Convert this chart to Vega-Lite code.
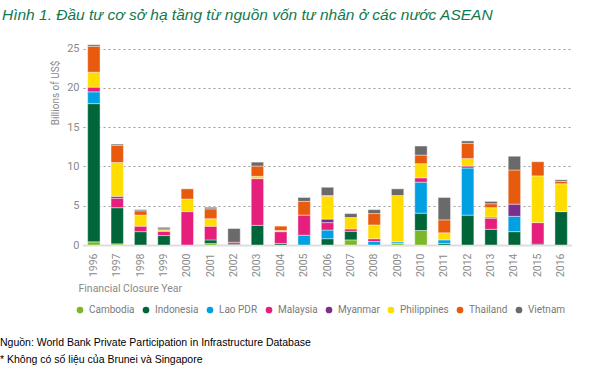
{
  "$schema": "https://vega.github.io/schema/vega-lite/v6.json",
  "padding": {"top": 8, "left": 0, "right": 0, "bottom": 0},
  "background": "white",
  "title": {
    "text": "Hình 1. Đầu tư cơ sở hạ tầng từ nguồn vốn tư nhân ở các nước ASEAN",
    "anchor": "start",
    "frame": "bounds",
    "dx": 2,
    "offset": 19,
    "font": "Liberation Sans, Arial, sans-serif",
    "fontSize": 15.5,
    "fontStyle": "italic",
    "fontWeight": "normal",
    "color": "#0f7a50"
  },
  "vconcat": [
    {
      "width": 489,
      "height": 201,
      "title": {
        "text": ["Nguồn: World Bank Private Participation in Infrastructure Database", "* Không có số liệu của Brunei và Singapore"],
        "orient": "bottom",
        "anchor": "start",
        "frame": "group",
        "dx": -83,
        "offset": 44,
        "font": "Liberation Sans, Arial, sans-serif",
        "fontSize": 10.5,
        "fontWeight": "normal",
        "color": "#000000",
        "lineHeight": 17
      },
      "data": {
        "values": [
          {"year": "1996", "country": "Cambodia", "value": 0.4},
          {"year": "1996", "country": "Indonesia", "value": 17.6},
          {"year": "1996", "country": "Lao PDR", "value": 1.5},
          {"year": "1996", "country": "Malaysia", "value": 0.6},
          {"year": "1996", "country": "Philippines", "value": 1.9},
          {"year": "1996", "country": "Thailand", "value": 3.3},
          {"year": "1996", "country": "Vietnam", "value": 0.2},
          {"year": "1997", "country": "Cambodia", "value": 0.15},
          {"year": "1997", "country": "Indonesia", "value": 4.6},
          {"year": "1997", "country": "Malaysia", "value": 1.2},
          {"year": "1997", "country": "Myanmar", "value": 0.25},
          {"year": "1997", "country": "Philippines", "value": 4.3},
          {"year": "1997", "country": "Thailand", "value": 2.2},
          {"year": "1997", "country": "Vietnam", "value": 0.15},
          {"year": "1998", "country": "Indonesia", "value": 1.7},
          {"year": "1998", "country": "Malaysia", "value": 0.7},
          {"year": "1998", "country": "Philippines", "value": 1.4},
          {"year": "1998", "country": "Thailand", "value": 0.55},
          {"year": "1998", "country": "Vietnam", "value": 0.15},
          {"year": "1999", "country": "Indonesia", "value": 1.2},
          {"year": "1999", "country": "Malaysia", "value": 0.55},
          {"year": "1999", "country": "Philippines", "value": 0.15},
          {"year": "1999", "country": "Thailand", "value": 0.15},
          {"year": "1999", "country": "Vietnam", "value": 0.2},
          {"year": "2000", "country": "Malaysia", "value": 4.25},
          {"year": "2000", "country": "Philippines", "value": 1.6},
          {"year": "2000", "country": "Thailand", "value": 1.3},
          {"year": "2001", "country": "Cambodia", "value": 0.2},
          {"year": "2001", "country": "Indonesia", "value": 0.45},
          {"year": "2001", "country": "Malaysia", "value": 1.75},
          {"year": "2001", "country": "Philippines", "value": 0.95},
          {"year": "2001", "country": "Thailand", "value": 1.25},
          {"year": "2001", "country": "Vietnam", "value": 0.2},
          {"year": "2002", "country": "Indonesia", "value": 0.1},
          {"year": "2002", "country": "Malaysia", "value": 0.25},
          {"year": "2002", "country": "Vietnam", "value": 1.75},
          {"year": "2003", "country": "Indonesia", "value": 2.5},
          {"year": "2003", "country": "Malaysia", "value": 5.95},
          {"year": "2003", "country": "Philippines", "value": 0.3},
          {"year": "2003", "country": "Thailand", "value": 1.3},
          {"year": "2003", "country": "Vietnam", "value": 0.5},
          {"year": "2004", "country": "Indonesia", "value": 0.2},
          {"year": "2004", "country": "Malaysia", "value": 1.5},
          {"year": "2004", "country": "Philippines", "value": 0.15},
          {"year": "2004", "country": "Thailand", "value": 0.55},
          {"year": "2005", "country": "Lao PDR", "value": 1.25},
          {"year": "2005", "country": "Malaysia", "value": 2.55},
          {"year": "2005", "country": "Thailand", "value": 1.75},
          {"year": "2005", "country": "Vietnam", "value": 0.5},
          {"year": "2006", "country": "Indonesia", "value": 0.8},
          {"year": "2006", "country": "Lao PDR", "value": 1.1},
          {"year": "2006", "country": "Malaysia", "value": 0.95},
          {"year": "2006", "country": "Myanmar", "value": 0.45},
          {"year": "2006", "country": "Philippines", "value": 2.9},
          {"year": "2006", "country": "Thailand", "value": 0.1},
          {"year": "2006", "country": "Vietnam", "value": 1.05},
          {"year": "2007", "country": "Cambodia", "value": 0.65},
          {"year": "2007", "country": "Indonesia", "value": 1.1},
          {"year": "2007", "country": "Malaysia", "value": 0.3},
          {"year": "2007", "country": "Philippines", "value": 1.45},
          {"year": "2007", "country": "Vietnam", "value": 0.5},
          {"year": "2008", "country": "Lao PDR", "value": 0.45},
          {"year": "2008", "country": "Malaysia", "value": 0.35},
          {"year": "2008", "country": "Philippines", "value": 1.75},
          {"year": "2008", "country": "Thailand", "value": 1.45},
          {"year": "2008", "country": "Vietnam", "value": 0.5},
          {"year": "2009", "country": "Cambodia", "value": 0.2},
          {"year": "2009", "country": "Lao PDR", "value": 0.2},
          {"year": "2009", "country": "Philippines", "value": 5.9},
          {"year": "2009", "country": "Vietnam", "value": 0.85},
          {"year": "2010", "country": "Cambodia", "value": 1.85},
          {"year": "2010", "country": "Indonesia", "value": 2.2},
          {"year": "2010", "country": "Lao PDR", "value": 3.95},
          {"year": "2010", "country": "Malaysia", "value": 0.55},
          {"year": "2010", "country": "Philippines", "value": 1.8},
          {"year": "2010", "country": "Thailand", "value": 1.1},
          {"year": "2010", "country": "Vietnam", "value": 1.15},
          {"year": "2011", "country": "Indonesia", "value": 0.2},
          {"year": "2011", "country": "Lao PDR", "value": 0.45},
          {"year": "2011", "country": "Philippines", "value": 0.9},
          {"year": "2011", "country": "Thailand", "value": 1.65},
          {"year": "2011", "country": "Vietnam", "value": 2.85},
          {"year": "2012", "country": "Indonesia", "value": 3.8},
          {"year": "2012", "country": "Lao PDR", "value": 6.0},
          {"year": "2012", "country": "Malaysia", "value": 0.25},
          {"year": "2012", "country": "Philippines", "value": 0.95},
          {"year": "2012", "country": "Thailand", "value": 1.95},
          {"year": "2012", "country": "Vietnam", "value": 0.3},
          {"year": "2013", "country": "Indonesia", "value": 2.0},
          {"year": "2013", "country": "Malaysia", "value": 1.4},
          {"year": "2013", "country": "Myanmar", "value": 0.15},
          {"year": "2013", "country": "Philippines", "value": 1.2},
          {"year": "2013", "country": "Thailand", "value": 0.5},
          {"year": "2013", "country": "Vietnam", "value": 0.3},
          {"year": "2014", "country": "Indonesia", "value": 1.7},
          {"year": "2014", "country": "Lao PDR", "value": 1.95},
          {"year": "2014", "country": "Myanmar", "value": 1.55},
          {"year": "2014", "country": "Thailand", "value": 4.35},
          {"year": "2014", "country": "Vietnam", "value": 1.75},
          {"year": "2015", "country": "Indonesia", "value": 0.1},
          {"year": "2015", "country": "Malaysia", "value": 2.75},
          {"year": "2015", "country": "Philippines", "value": 5.95},
          {"year": "2015", "country": "Thailand", "value": 1.8},
          {"year": "2016", "country": "Indonesia", "value": 4.25},
          {"year": "2016", "country": "Philippines", "value": 3.55},
          {"year": "2016", "country": "Thailand", "value": 0.3},
          {"year": "2016", "country": "Vietnam", "value": 0.2}
        ]
      },
      "mark": {"type": "bar", "stroke": "white", "strokeWidth": 0.6, "strokeOpacity": 0.7},
      "encoding": {
        "x": {
          "field": "year",
          "type": "ordinal",
          "scale": {"paddingInner": 0.47, "paddingOuter": 0.2},
          "axis": {
            "title": "Financial Closure Year",
            "labelAngle": -90,
            "labelAlign": "right",
            "labelBaseline": "middle",
            "labelPadding": 8,
            "labelFontSize": 10.5,
            "ticks": false,
            "domain": true,
            "domainColor": "#dddddd",
            "domainWidth": 2,
            "titleAnchor": "start",
            "titleAlign": "left",
            "titleX": -5,
            "titlePadding": 7,
            "titleFontSize": 10.5
          }
        },
        "y": {
          "field": "value",
          "type": "quantitative",
          "stack": "zero",
          "scale": {"domain": [0, 25.59], "nice": false},
          "axis": {
            "title": "Billions of US$",
            "values": [0, 5, 10, 15, 20, 25],
            "ticks": false,
            "domain": false,
            "labelPadding": 4,
            "labelFontSize": 11,
            "grid": true,
            "gridDash": [2, 3],
            "gridColor": "#9a9a9a",
            "gridWidth": 1,
            "titleX": -23,
            "titleY": 48.5,
            "titleAngle": -90,
            "titleAlign": "center",
            "titleBaseline": "bottom",
            "titleFontSize": 10
          }
        },
        "color": {
          "field": "country",
          "type": "nominal",
          "scale": {
            "domain": ["Cambodia", "Indonesia", "Lao PDR", "Malaysia", "Myanmar", "Philippines", "Thailand", "Vietnam"],
            "range": ["#7ab829", "#00663a", "#00a0e3", "#e51f7b", "#7a2f8e", "#ffdd00", "#e85a0e", "#6b6a6a"]
          },
          "legend": {
            "title": null,
            "orient": "none",
            "direction": "horizontal",
            "legendX": -8,
            "legendY": 261,
            "symbolType": "circle",
            "symbolSize": 45,
            "symbolStrokeWidth": 0,
            "labelOffset": 4,
            "columnPadding": 6,
            "labelFontSize": 10,
            "labelColor": "#7a7a7a",
            "labelFont": "Roboto, sans-serif"
          }
        },
        "order": {"field": "country", "type": "nominal", "sort": "ascending"}
      }
    }
  ],
  "config": {
    "view": {"stroke": null},
    "axis": {
      "labelFont": "Roboto, sans-serif",
      "titleFont": "Roboto, sans-serif",
      "labelColor": "#8a8a8a",
      "titleColor": "#8a8a8a",
      "titleFontWeight": "normal"
    }
  }
}
